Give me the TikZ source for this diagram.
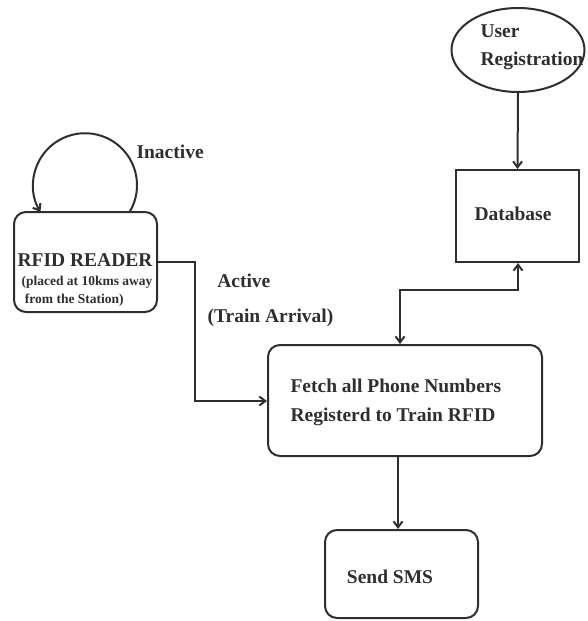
\documentclass[tikz,border=0pt]{standalone}
\usepackage{fontspec}
\setmainfont{Liberation Serif}
\usetikzlibrary{shapes.geometric,arrows.meta}
\definecolor{ink}{HTML}{2E2E2E}
\begin{document}
\begin{tikzpicture}[x=1pt,y=-1pt,
  every node/.style={font=\bfseries, text=ink},
  big/.style={font=\bfseries\fontsize{19.5}{29}\selectfont},
  rbox/.style={draw=ink, line width=2pt, rounded corners=12pt, inner sep=0pt},
  sbox/.style={draw=ink, line width=2pt, inner sep=0pt},
  conn/.style={draw=ink, line width=2pt, -{Straight Barb[length=6pt,width=9pt]}}]
\useasboundingbox (0,0) rectangle (587,621);
\node[ellipse, draw=ink, line width=2pt, minimum width=133pt, minimum height=84pt, inner sep=0pt] (user) at (518,50) {};
\node[big, align=left, anchor=west, font=\bfseries\fontsize{19.5}{28}\selectfont] (usert) at (477,47) {User\\Registration};
\node[sbox, minimum width=123pt, minimum height=92pt] (db) at (517.5,216) {};
\node[big] (dbt) at (513,214) {Database};
\node[rbox, minimum width=143pt, minimum height=100pt] (rfid) at (85.5,262) {};
\node[big] (rfidt) at (85,260) {RFID READER};
\node[align=left, font=\bfseries\fontsize{13.5}{18}\selectfont, anchor=west] (rfids) at (18,291) {(placed at 10kms away\\\ from the Station)};
\node[rbox, minimum width=274pt, minimum height=111pt] (fetch) at (405,400.5) {};
\node[big, align=left, anchor=west] (fetcht) at (287,402) {Fetch all Phone Numbers\\Registerd to Train RFID};
\node[rbox, minimum width=153pt, minimum height=88pt] (sms) at (401.5,574) {};
\node[big] (smst) at (390,577) {Send SMS};
\node[big, anchor=west] (inact) at (133,152) {Inactive};
\node[big, align=left, anchor=west, font=\bfseries\fontsize{19.5}{35}\selectfont] (act) at (204,300) {\ \ Active\\(Train Arrival)};
% connectors
\draw[conn] (user.south) -- (db.north);
\coordinate (s0) at (398,456);
\draw[conn] (fetch.south -| s0) -- (sms.north -| s0);
\coordinate (c1) at (195,262);
\coordinate (c2) at (195,401);
\draw[conn] (rfid.east |- c1) -- (c1) -- (c2) -- (fetch.west |- c2);
\coordinate (d1) at (400,290);
\coordinate (d2) at (518,290);
\draw[conn, {Straight Barb[length=6pt,width=9pt]}-{Straight Barb[length=6pt,width=9pt]}] (fetch.north -| d1) -- (d1) -- (d2) -- (db.south -| d2);
\coordinate (l2) at (129.6,212);
\draw[conn] (l2) arc[start angle=31, end angle=-211, radius=52];
\end{tikzpicture}
\end{document}
